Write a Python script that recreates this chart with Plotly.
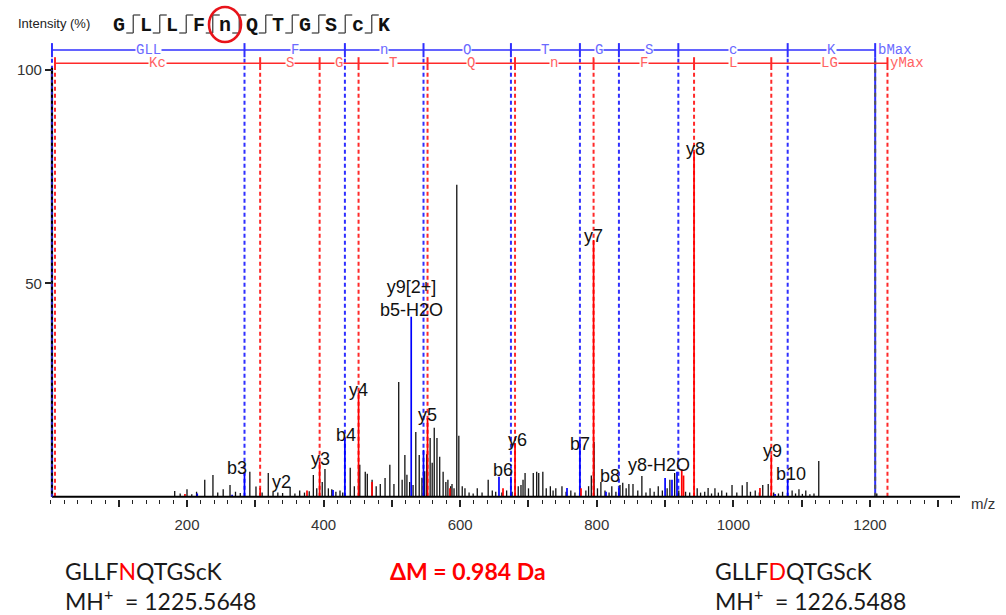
import plotly.graph_objects as go

# ---------------- data ----------------
# unmatched (black) peaks: m/z and relative intensity (%)
black_mz = [182, 190, 200, 207, 214, 226, 238, 245, 253, 263, 271, 278, 292, 301, 310, 319, 326, 333, 340,
            351, 358, 365, 372, 379, 385, 390, 398, 402, 407, 412, 418, 424, 428, 439, 445, 453, 461, 464,
            471, 477, 483, 490, 497, 503, 510, 515, 519, 522, 526, 531, 535, 540, 544, 548, 551, 556, 559,
            562, 566, 570, 575, 579, 582, 586, 588, 591, 595, 598, 603, 607, 613, 619, 625, 632, 641, 647,
            652, 661, 668, 676, 685, 689, 692, 695, 700, 707, 712, 715, 721, 726, 732, 736, 740, 749, 755,
            762, 768, 784, 788, 792, 796, 801, 806, 812, 818, 822, 828, 834, 838, 843, 847, 853, 860, 866,
            872, 878, 884, 890, 896, 903, 907, 914, 920, 930, 936, 947, 952, 958, 963, 968, 973, 978, 983,
            990, 998, 1005, 1013, 1020, 1025, 1032, 1038, 1043, 1051, 1059, 1066, 1072, 1086, 1091, 1096,
            1101, 1106, 1112, 1118, 1125, 1210]
black_int = [1.4, 0.8, 1.8, 0.6, 1.2, 4.0, 5.1, 1.0, 1.8, 2.8, 1.2, 0.9, 5.9, 2.4, 1.0, 5.6, 1.2, 1.0, 0.9,
             2.3, 0.8, 1.5, 1.0, 1.3, 5.1, 2.0, 3.5, 6.5, 2.0, 1.8, 1.2, 1.5, 1.0, 6.8, 2.5, 7.5, 5.9, 5.4,
             4.0, 2.5, 3.0, 4.4, 7.5, 3.0, 26.9, 4.0, 9.8, 5.2, 3.5, 2.8, 15.2, 9.8, 4.5, 6.0, 10.0, 13.8, 8.0,
             16.2, 13.8, 9.4, 5.9, 3.5, 4.0, 2.5, 3.0, 2.0, 73.1, 14.3, 2.5, 2.0, 1.0, 0.8, 2.0, 1.0, 4.0, 1.5,
             1.2, 1.0, 1.5, 1.2, 2.5, 2.8, 4.0, 5.6, 2.0, 5.6, 5.9, 5.6, 5.9, 2.0, 2.5, 1.5, 2.0, 2.5, 1.2,
             1.5, 1.0, 1.5, 2.5, 5.0, 12.9, 2.0, 3.5, 1.5, 1.0, 2.5, 1.2, 2.8, 3.3, 2.0, 3.0, 3.0, 1.5, 4.9,
             1.0, 2.0, 1.2, 2.5, 1.5, 2.0, 4.0, 5.6, 1.5, 1.2, 1.0, 2.0, 1.0, 1.2, 2.1, 0.8, 2.0, 1.0, 1.5,
             1.0, 2.8, 1.0, 2.7, 3.5, 1.2, 1.5, 1.0, 2.8, 3.0, 1.0, 0.8, 1.2, 1.5, 0.8, 1.8,
             0.7, 1.5, 0.6, 0.8, 8.4, 0.8]

# b-type matched peaks (blue)
b_mz = [215, 266, 284.2, 413.8, 431.2, 528.3, 546.3, 656.8, 674.3, 756.4, 775.3, 813.5, 832.4, 900.0,
        910.1, 917.4, 1061.0, 1079.5]
b_int = [0.8, 0.5, 5.6, 1.6, 13.8, 42.2, 11.0, 4.7, 4.7, 2.1, 13.3, 1.2, 2.0, 4.4, 4.0, 5.9, 0.7, 4.0]

# y-type matched peaks (red)
y_mz = [197, 307.1, 375.7, 394.2, 451.2, 470.9, 552.2, 585.0, 662.7, 680.3, 776.9, 795.3, 924.4, 927.0,
        942.4, 1038.9, 1055.5]
y_int = [0.7, 2.1, 1.5, 8.2, 24.4, 3.5, 18.5, 2.0, 2.0, 12.6, 2.0, 60.2, 6.5, 5.0, 80.8, 2.1, 9.8]

# peak annotations
label_text = ["b3", "y2", "y3", "b4", "y4", "y9[2+]<br>b5-H2O", "y5", "b6", "y6", "b7", "y7", "b8",
              "y8-H2O", "y8", "y9", "b10"]
label_mz = [284.2, 307.1, 394.2, 431.2, 451.2, 528.3, 552.2, 674.3, 680.3, 775.3, 795.3, 832.4,
            924.4, 942.4, 1055.5, 1079.5]
label_int = [5.6, 2.1, 8.2, 13.8, 24.4, 42.2, 18.5, 4.7, 12.6, 13.3, 60.2, 2.0, 6.5, 80.8, 9.8, 4.0]

# fragment ladders (m/z of each cleavage) and the residues between them
b_ladder = [2.3, 284.2, 431.2, 546.3, 674.3, 775.3, 832.4, 919.4, 1079.5, 1207.6]
b_ladder_text = ["GLL", "F", "n", "Q", "T", "G", "S", "c", "K"]
y_ladder = [6.7, 307.1, 394.2, 451.2, 552.2, 680.3, 795.3, 942.4, 1055.5, 1225.6]
y_ladder_text = ["Kc", "S", "G", "T", "Q", "n", "F", "L", "LG"]

sequence = ["G", "L", "L", "F", "n", "Q", "T", "G", "S", "c", "K"]
x_tickvals = [100, 200, 300, 400, 500, 600, 700, 800, 900, 1000, 1100, 1200, 1300]
x_ticktext = ["", "200", "", "400", "", "600", "", "800", "", "1000", "", "1200", ""]
y_tickvals = [50, 100]

# ---------------- layout geometry / styles ----------------
W, H = 1006, 615
ML, MR, MT, MB = 44, 46, 0, 116
PW, PH = W - ML - MR, H - MT - MB
X_RANGE = [-9.37, 1331.8]
Y_RANGE = [-0.5, 116.4]
BLUE, RED = "#2f2fff", "#ff2a2a"
BLUE_T, RED_T = "#6a6aff", "#ff6262"
MONO = "Liberation Mono, Courier New, monospace"
SANS = "Liberation Sans, Arial, sans-serif"

def px(xp):
    return (xp - ML) / PW

def py(yp):
    return (H - MB - yp) / PH

def stems(mz, inten):
    xs, ys = [], []
    for m, i in zip(mz, inten):
        xs += [m, m, None]
        ys += [0, i, None]
    return xs, ys

fig = go.Figure()
for mz, it, col, w in [(black_mz, black_int, "#111111", 1.3), (b_mz, b_int, "#0000ff", 1.7),
                       (y_mz, y_int, "#ff0000", 1.7)]:
    xs, ys = stems(mz, it)
    fig.add_trace(go.Scatter(x=xs, y=ys, mode="lines", line=dict(color=col, width=w),
                             hoverinfo="skip", showlegend=False))

shapes = []
annotations = []

# dashed fragment lines
for i, m in enumerate(b_ladder):
    if i == len(b_ladder) - 1:
        shapes.append(dict(type="line", xref="x", yref="y", x0=m, x1=m, y0=0, y1=103.0,
                           line=dict(color=BLUE, width=2), layer="below"))
        shapes.append(dict(type="line", xref="x", yref="y", x0=m, x1=m, y0=0, y1=103.0,
                           line=dict(color="#555555", width=2, dash="4px,4px"), layer="below"))
    else:
        shapes.append(dict(type="line", xref="x", yref="y", x0=m, x1=m, y0=0, y1=103.0,
                           line=dict(color=BLUE, width=2, dash="4px,3px"), layer="below"))
for m in y_ladder:
    shapes.append(dict(type="line", xref="x", yref="y", x0=m, x1=m, y0=0, y1=100.0,
                       line=dict(color=RED, width=2, dash="4px,3px"), layer="below"))

# axes lines
shapes.append(dict(type="line", xref="x", yref="y", x0=b_ladder[0], x1=X_RANGE[1], y0=0, y1=0,
                   line=dict(color="black", width=2)))
shapes.append(dict(type="line", xref="x", yref="y", x0=b_ladder[0], x1=b_ladder[0], y0=0, y1=100.5,
                   line=dict(color="black", width=2.2), layer="below"))
shapes.append(dict(type="line", xref="x", yref="y", x0=b_ladder[0], x1=b_ladder[0], y0=0, y1=100,
                   line=dict(color=BLUE, width=1.5, dash="3px,3px")))

# ladders
for lad, txt, yl, ylo, yhi, col, tcol, end in [
        (b_ladder, b_ladder_text, 104.7, 103.0, 106.3, BLUE, BLUE_T, "bMax"),
        (y_ladder, y_ladder_text, 101.6, 100.0, 103.0, RED, RED_T, "yMax")]:
    shapes.append(dict(type="line", xref="x", yref="y", x0=lad[0], x1=lad[-1], y0=yl, y1=yl,
                       line=dict(color=col, width=1.5)))
    for m in lad:
        shapes.append(dict(type="line", xref="x", yref="y", x0=m, x1=m, y0=ylo, y1=yhi,
                           line=dict(color=col, width=2)))
    for k, t in enumerate(txt):
        annotations.append(dict(x=(lad[k] + lad[k + 1]) / 2, y=yl, xref="x", yref="y", text=t,
                                showarrow=False, font=dict(family=MONO, size=14, color=tcol),
                                bgcolor="white", borderpad=0, xanchor="center", yanchor="middle"))
    annotations.append(dict(x=lad[-1], y=yl, xref="x", yref="y", text=end, showarrow=False,
                            xanchor="left", yanchor="middle", xshift=1,
                            font=dict(family=MONO, size=14, color=tcol)))

# peak labels
label_style = {"b3": (-8, 5), "y2": (21, 6), "y3": (1, 3), "b4": (1, 3), "y4": (0, 3),
               "y9[2+]<br>b5-H2O": (0, 18), "y5": (0, 3), "b6": (-8, 7), "y6": (2, 3),
               "b7": (0, -4), "y7": (0, 4), "b8": (-9, 12), "y8-H2O": (-23, 4), "y8": (1, 3),
               "y9": (1, 4), "b10": (3, 6)}
for t, m, it in zip(label_text, label_mz, label_int):
    dx, dy = label_style[t]
    annotations.append(dict(x=m, y=it, xref="x", yref="y", text=t, showarrow=False,
                            xanchor="center", yanchor="middle", xshift=dx, yshift=dy,
                            font=dict(family=SANS, size=18, color="#111111")))

# header: sequence with fragmentation marks
annotations.append(dict(x=px(16), y=py(23.5), xref="paper", yref="paper", text="Intensity (%)",
                        showarrow=False, xanchor="left", yanchor="middle",
                        font=dict(family=SANS, size=13, color="#222222")))
step = 26.5
for k, s in enumerate(sequence):
    cx = 119 + k * step
    annotations.append(dict(x=px(cx), y=py(25), xref="paper", yref="paper", text="<b>%s</b>" % s,
                            showarrow=False, xanchor="center", yanchor="middle",
                            font=dict(family=MONO, size=20, color="#111111")))
    if k < len(sequence) - 1:
        vx = cx + step / 2 + 1
        for (xa, ya, xb, yb) in [(vx, 15, vx + 7, 15), (vx, 15, vx, 33), (vx - 7, 33, vx, 33)]:
            shapes.append(dict(type="line", xref="paper", yref="paper", x0=px(xa), x1=px(xb),
                               y0=py(ya), y1=py(yb), line=dict(color="#444444", width=1.3)))
shapes.append(dict(type="circle", xref="paper", yref="paper", x0=px(209), x1=px(241),
                   y0=py(42), y1=py(7), line=dict(color="#e8141b", width=2.6)))

# m/z label
annotations.append(dict(x=px(969), y=py(503), xref="paper", yref="paper", text="m/z", showarrow=False,
                        xanchor="left", yanchor="middle", font=dict(family=SANS, size=15, color="#333333")))

# bottom texts
BF = "Lato, Open Sans, sans-serif"
for txt, xl, yc, size, red in [
        ("GLLF<span style='color:#ff0000'>N</span>QTGScK", 63, 571, 23, False),
        ("MH<sup>+</sup>\u00a0\u00a0= 1225.5648", 63, 599, 23, False),
        ("<b>\u0394M = 0.984 Da</b>", 388, 571, 23, True),
        ("GLLF<span style='color:#ff0000'>D</span>QTGScK", 713, 571, 23, False),
        ("MH<sup>+</sup>\u00a0\u00a0= 1226.5488", 713, 599, 23, False)]:
    annotations.append(dict(x=px(xl), y=py(yc), xref="paper", yref="paper", text=txt, showarrow=False,
                            xanchor="left", yanchor="middle",
                            font=dict(family=BF, size=size, color="#ff0000" if red else "#1a1a1a")))

ypos = (b_ladder[0] - X_RANGE[0]) / (X_RANGE[1] - X_RANGE[0])

fig.update_layout(
    width=W, height=H, margin=dict(l=ML, r=MR, t=MT, b=MB, pad=0, autoexpand=False),
    paper_bgcolor="white", plot_bgcolor="white", showlegend=False, hovermode=False,
    shapes=shapes, annotations=annotations,
    xaxis=dict(range=X_RANGE, showgrid=False, zeroline=False, showline=False, automargin=False,
               tickmode="array", tickvals=x_tickvals, ticktext=x_ticktext,
               ticks="outside", ticklen=7, tickwidth=1.5, tickcolor="#222222",
               ticklabelstandoff=5,
               minor=dict(ticks="outside", dtick=20, tick0=0, ticklen=4, tickwidth=1, tickcolor="#222222"),
               tickfont=dict(family=SANS, size=15, color="#333333")),
    yaxis=dict(range=Y_RANGE, showgrid=False, zeroline=False, showline=False, automargin=False,
               anchor="free", position=ypos,
               tickmode="array", tickvals=y_tickvals, ticks="outside", ticklen=7, tickwidth=1.5,
               tickcolor="#222222", tickfont=dict(family=SANS, size=15, color="#333333")),
)

fig.write_html("out.html", config={"displayModeBar": False},
               post_script="document.body.style.margin='0';document.body.style.overflow='hidden';")
